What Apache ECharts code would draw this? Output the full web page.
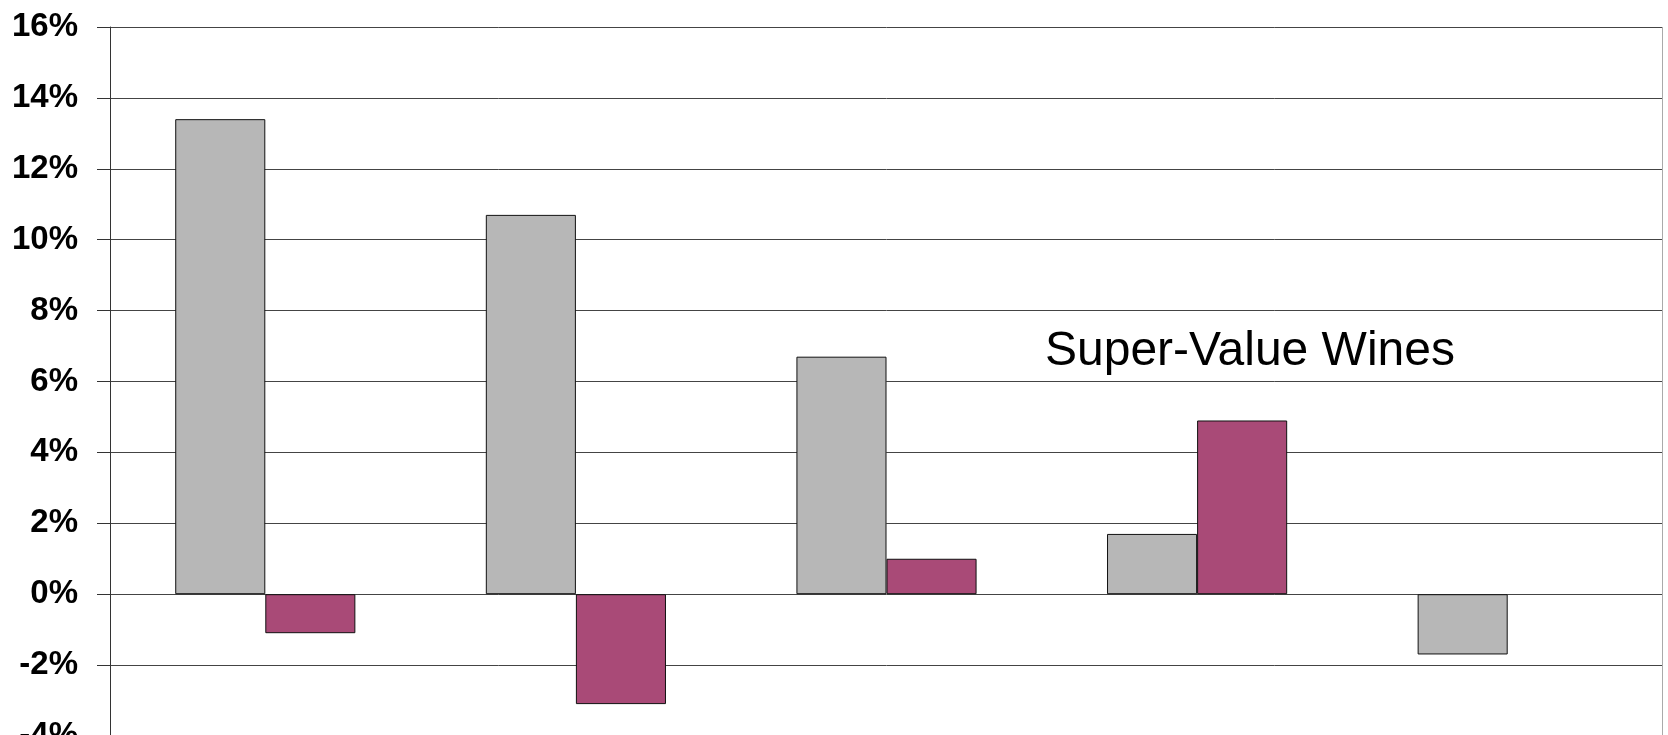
<!DOCTYPE html>
<html>
<head>
<meta charset="utf-8">
<script src="https://cdn.jsdelivr.net/npm/echarts@6/dist/echarts.min.js"></script>
<style>
html,body{margin:0;padding:0;background:#fff;}
#chart{width:1668px;height:735px;}
</style>
</head>
<body>
<div id="chart"></div>
<script>
const categories = ['A', 'B', 'C', 'D', 'E'];
const seriesGray = [13.4, 10.7, 6.7, 1.7, -1.7];
const seriesPink = [-1.1, -3.1, 1.0, 4.9, null];
const yTicks = { min: -4, max: 16, interval: 2 };
const annotation = 'Super-Value Wines';

const chart = echarts.init(document.getElementById('chart'), null, { renderer: 'canvas' });
chart.setOption({
  animation: false,
  backgroundColor: '#ffffff',
  grid: { left: 110, top: 27, right: 5, height: 709, containLabel: false, outerBoundsMode: 'none' },
  xAxis: {
    type: 'category',
    data: categories,
    axisLine: { show: false },
    axisTick: { show: false },
    axisLabel: { show: false },
    splitLine: { show: false }
  },
  yAxis: {
    type: 'value',
    min: yTicks.min,
    max: yTicks.max,
    interval: yTicks.interval,
    axisLine: { show: true, lineStyle: { color: '#333', width: 1 } },
    axisTick: { show: true, length: 13, lineStyle: { color: '#333' } },
    axisLabel: {
      formatter: '{value}%',
      fontFamily: 'Liberation Sans, Arial, sans-serif',
      fontWeight: 'bold',
      fontSize: 33,
      color: '#000',
      margin: 32
    },
    splitLine: { show: true, lineStyle: { color: '#444', width: 1 } }
  },
  series: [
    {
      type: 'bar',
      data: seriesGray,
      barGap: '0%',
      barCategoryGap: '42%',
      itemStyle: { color: '#b7b7b7', borderColor: '#111', borderWidth: 1 }
    },
    {
      type: 'bar',
      data: seriesPink,
      barGap: '0%',
      barCategoryGap: '42%',
      itemStyle: { color: '#a94a77', borderColor: '#111', borderWidth: 1 }
    }
  ],
  graphic: [
    {
      type: 'line',
      shape: { x1: 1662.5, y1: 27, x2: 1662.5, y2: 735 },
      style: { stroke: '#aaa', lineWidth: 1 },
      z: 10
    },
    {
      type: 'text',
      x: 1045,
      y: 328,
      style: {
        text: annotation,
        font: '48px "Liberation Sans", Arial, sans-serif',
        fill: '#000',
        textAlign: 'left'
      },
      z: 20
    }
  ]
});
</script>
</body>
</html>
